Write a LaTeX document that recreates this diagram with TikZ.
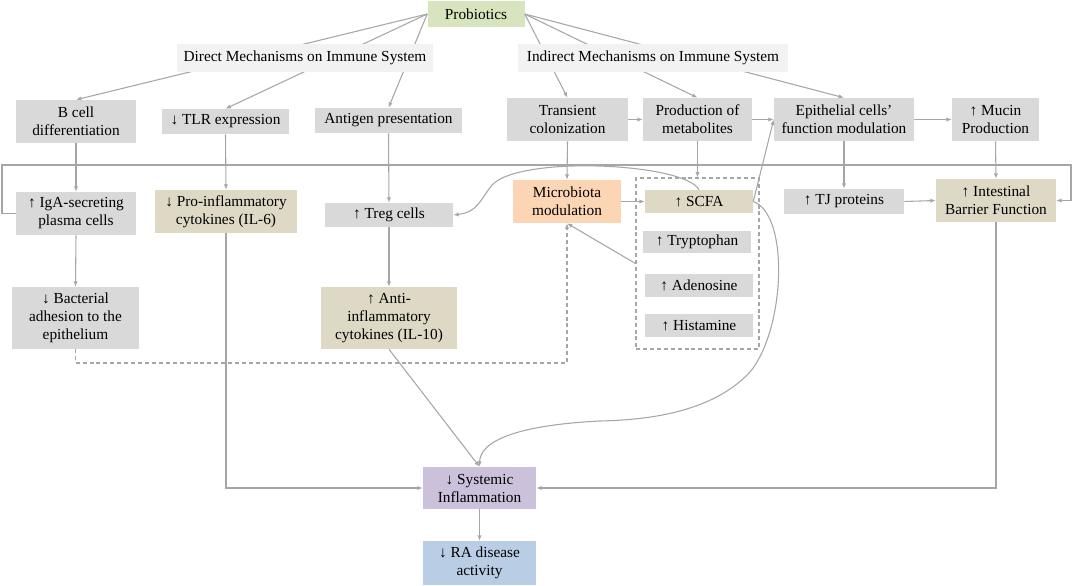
\documentclass[tikz,border=0pt]{standalone}
\usepackage{fontspec}
\setmainfont{Liberation Serif}
\usetikzlibrary{arrows.meta}
\definecolor{lgrey}{HTML}{D9D9D9}
\definecolor{hgrey}{HTML}{F2F2F2}
\definecolor{ctan}{HTML}{DDD9C4}
\definecolor{pgreen}{HTML}{D7E4BD}
\definecolor{porange}{HTML}{FCD5B5}
\definecolor{ppurple}{HTML}{CCC1DA}
\definecolor{pblue}{HTML}{B9CDE5}
\definecolor{lnc}{HTML}{A6A6A6}
\begin{document}
\begin{tikzpicture}[x=0.75pt,y=-0.75pt,
 box/.style={fill=lgrey, inner sep=0pt, align=center, font=\fontsize{11.5}{13.5}\selectfont, text=black},
 wh/.style 2 args={minimum width=#1*0.75pt, minimum height=#2*0.75pt},
 conn/.style={draw=lnc, line width=0.8pt, -{Latex[length=4pt,width=3.2pt]}},
 plain/.style={draw=lnc, line width=0.8pt},
 dsh/.style={draw=lnc, line width=0.8pt, dash pattern=on 3pt off 2.2pt}]
\useasboundingbox (0,0) rectangle (1072,586);

% nodes
\node[box, fill=pgreen, wh={97}{26}] (prob) at (476,14) {Probiotics};
\node[box, wh={120}{43}] (bcell) at (76,121.5) {B cell\\differentiation};
\node[box, wh={127}{25}] (tlr) at (225.5,121.5) {↓ TLR expression};
\node[box, wh={147}{25}] (antigen) at (388.5,120.5) {Antigen presentation};
\node[box, wh={121}{43}] (transient) at (567.5,119.5) {Transient\\colonization};
\node[box, wh={109}{43}] (production) at (697.5,119.5) {Production of\\metabolites};
\node[box, wh={140}{43}] (epith) at (844,119.5) {Epithelial cells’\\function modulation};
\node[box, wh={87}{43}] (mucin) at (995.5,119.5) {↑ Mucin\\Production};

\node[box, wh={120}{43}] (iga) at (76,213.5) {↑ IgA-secreting\\plasma cells};
\node[box, fill=ctan, wh={142}{43}] (proinf) at (226,211.5) {↓ Pro-inflammatory\\cytokines (IL-6)};
\node[box, wh={128}{24}] (treg) at (389,215) {↑ Treg cells};
\node[box, fill=porange, wh={108}{43}] (micro) at (567,201.5) {Microbiota\\modulation};
\node[box, fill=ctan, wh={108}{23}] (scfa) at (699,201.5) {↑ SCFA};
\node[box, wh={108}{22}] (tryp) at (697,242) {↑ Tryptophan};
\node[box, wh={108}{23}] (aden) at (699,285.5) {↑ Adenosine};
\node[box, wh={108}{23}] (hist) at (699,325.5) {↑ Histamine};
\node[dsh, inner sep=0pt, wh={123}{171}] (dbox) at (697.5,263.5) {};
\node[box, wh={120}{25}] (tj) at (844,201.5) {↑ TJ proteins};
\node[box, fill=ctan, wh={120}{43}] (intest) at (996,200.5) {↑ Intestinal\\Barrier Function};

\node[box, wh={127}{62}] (bact) at (75.5,318) {↓ Bacterial\\adhesion to the\\epithelium};
\node[box, fill=ctan, wh={136}{62}] (anti) at (389,318) {↑ Anti-\\inflammatory\\cytokines (IL-10)};

\node[box, fill=ppurple, wh={113}{42}] (sys) at (479.5,488) {↓ Systemic\\Inflammation};
\node[box, fill=pblue, wh={113}{44}] (ra) at (479.5,563) {↓ RA disease\\activity};

% connectors from probiotics (behind header boxes)
\draw[conn] (prob.west) -- (bcell.north);
\draw[conn] (prob.west) -- (tlr.north);
\draw[conn] (prob.west) -- (antigen.north);
\draw[conn] (prob.east) -- (transient.north);
\draw[conn] (prob.east) -- (production.north);
\draw[conn] (prob.east) -- (epith.north);

% header boxes on top
\node[box, fill=hgrey, wh={256}{28}] (direct) at (305,58) {Direct Mechanisms on Immune System};
\node[box, fill=hgrey, wh={270}{28}] (indirect) at (653,58) {Indirect Mechanisms on Immune System};

% vertical connectors
\draw[conn] (bcell.south) -- (iga.north);
\draw[conn] (tlr.south) -- (proinf.north);
\draw[conn] (antigen.south) -- (treg.north);
\draw[conn] (transient.south) -- (micro.north);
\draw[conn] (production.south) -- (dbox.north);
\draw[conn] (epith.south) -- (tj.north);
\draw[conn] (mucin.south) -- (intest.north);
\draw[conn] (iga.south) -- (bact.north);
\draw[conn] (treg.south) -- (anti.north);
\draw[conn] (sys.south) -- (ra.north);

% horizontal connectors
\draw[conn] (transient.east) -- (production.west);
\draw[conn] (production.east) -- (epith.west);
\draw[conn] (epith.east) -- (mucin.west);
\draw[conn] (micro.east) -- (scfa.west);
\draw[conn] (tj.east) -- (intest.west);

% long loop from IgA to intestinal barrier
\coordinate (la) at (2,165);
\coordinate (lb) at (1071,165);
\draw[conn] (iga.west) -| (la) -- (lb) |- (intest.east);

% dashed from bacterial adhesion to microbiota
\coordinate (dj) at (567,363);
\draw[dsh, -{Latex[length=4pt,width=3.2pt]}] (bact.south) |- (dj) -- (micro.south);

% metabolites back to microbiota
\draw[conn] (dbox.west) -- (micro.south);

% SCFA to epithelial
\draw[conn] (scfa.east) -- (epith.west);

% SCFA to Treg (curve)
\draw[conn] (scfa.north) .. controls (685,163) and (520,155) .. (492,185)
  .. controls (480,200) and (478,212) .. (treg.east);

% SCFA to systemic inflammation (curve)
\draw[conn] (scfa.east) .. controls (790,215) and (785,330) .. (750,372)
  .. controls (710,415) and (640,420) .. (600,421)
  .. controls (520,425) and (480,440) .. (sys.north);

% to systemic inflammation
\draw[conn] (anti.south) -- (sys.north);
\draw[conn] (proinf.south) |- (sys.west);
\draw[conn] (intest.south) |- (sys.east);
\end{tikzpicture}
\end{document}
